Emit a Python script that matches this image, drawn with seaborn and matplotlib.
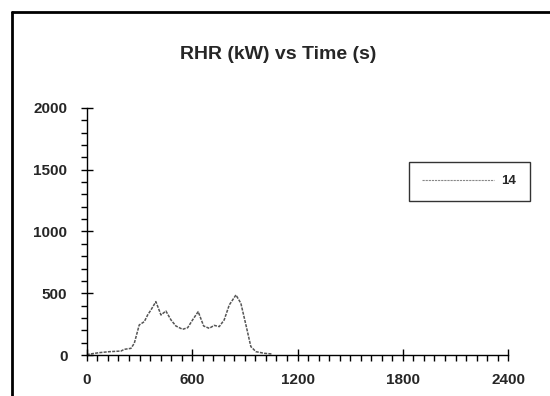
import matplotlib
matplotlib.use("Agg")
import matplotlib.pyplot as plt
from matplotlib.lines import Line2D
from matplotlib.ticker import MultipleLocator
import pandas as pd
import seaborn as sns

# RHR curve (time in s, heat release rate in kW)
time_s = [0, 4, 70, 127, 194, 213, 251, 270, 298, 327, 346, 365, 393, 422, 450,
          479, 507, 545, 574, 602, 634, 665, 697, 725, 754, 782, 811, 849, 877,
          906, 934, 963, 1010, 1058]
rhr_kw = [0, 5, 19, 27, 32, 46, 54, 95, 243, 270, 324, 365, 432, 324, 356,
          284, 235, 208, 221, 284, 351, 235, 216, 240, 230, 284, 405, 486, 419,
          243, 68, 27, 14, 8]
series_name = "14"

df = pd.DataFrame({"Time": time_s, "RHR": rhr_kw, "Test": series_name})

sns.set_style("white")
plt.rcParams["font.family"] = ["Liberation Sans", "DejaVu Sans"]

fig = plt.figure(figsize=(5.5, 3.96), dpi=100)
ax = fig.add_axes([0.158, 0.1035, 0.766, 0.624])

sns.lineplot(data=df, x="Time", y="RHR", hue="Test", palette=["#555555"],
             ax=ax, linewidth=1.1, linestyle=(0, (2, 0.8)))

ax.set_xlim(0, 2400)
ax.set_ylim(0, 2000)
ax.set_xlabel("")
ax.set_ylabel("")
ax.set_title("RHR (kW) vs Time (s)", fontsize=14, fontweight="bold",
             x=0.454, y=1.183, va="center")

for side in ("top", "right"):
    ax.spines[side].set_visible(False)
for side in ("left", "bottom"):
    ax.spines[side].set_color("black")
    ax.spines[side].set_linewidth(1.0)

ax.xaxis.set_major_locator(MultipleLocator(600))
ax.xaxis.set_minor_locator(MultipleLocator(60))
ax.yaxis.set_major_locator(MultipleLocator(500))
ax.yaxis.set_minor_locator(MultipleLocator(100))
ax.tick_params(which="both", bottom=True, left=True, color="black", width=1)
ax.tick_params(axis="both", which="major", direction="inout", length=8,
               labelsize=11)
ax.tick_params(axis="x", which="major", pad=9)
ax.tick_params(axis="y", which="major", pad=10)
ax.tick_params(axis="both", which="minor", direction="out", length=4)
for lab in ax.get_xticklabels() + ax.get_yticklabels():
    lab.set_fontweight("bold")
ax.grid(False)

leg = ax.legend(loc="upper left", bbox_to_anchor=(0.765, 0.781),
                frameon=True, fancybox=False, fontsize=9.5,
                handlelength=5.4, borderpad=1.0, borderaxespad=0,
                handletextpad=0.6, title=None)
leg.get_frame().set_edgecolor("black")
leg.get_frame().set_linewidth(1.0)
for t in leg.get_texts():
    t.set_fontweight("bold")
leg.legend_handles[0].set_linewidth(0.8)
leg.legend_handles[0].set_color("#888888")

# outer frame (left and top edges visible in the crop)
fx, fy = 12 / 550, 1 - 12 / 396
fig.add_artist(Line2D([fx, fx], [0, fy], transform=fig.transFigure,
                      color="black", linewidth=2))
fig.add_artist(Line2D([fx, 1], [fy, fy], transform=fig.transFigure,
                      color="black", linewidth=2))

fig.savefig("out.png", dpi=100)
